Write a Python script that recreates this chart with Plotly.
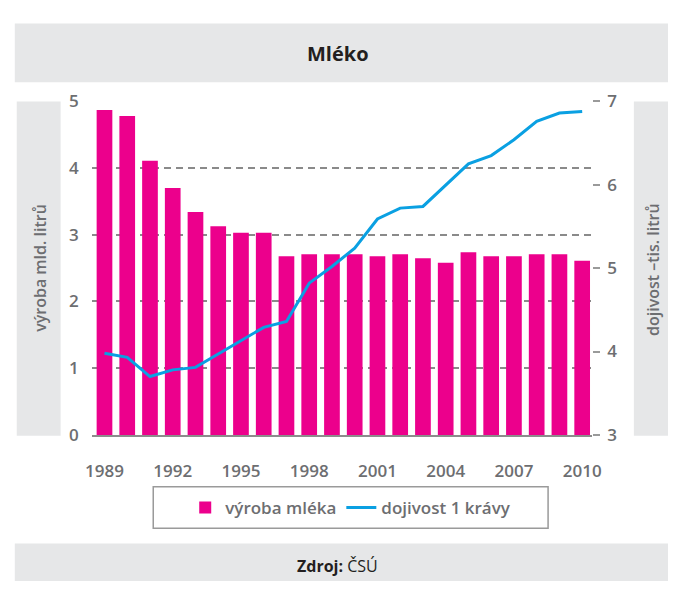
import plotly.graph_objects as go

# ---- data ----
years = list(range(1989, 2011))
vyroba_mleka = [4.87, 4.78, 4.11, 3.70, 3.34, 3.13, 3.03, 3.03, 2.68, 2.71, 2.71,
                2.71, 2.68, 2.71, 2.65, 2.58, 2.74, 2.68, 2.68, 2.71, 2.71, 2.61]
dojivost = [3.98, 3.93, 3.70, 3.78, 3.81, 3.97, 4.13, 4.29, 4.36, 4.82, 5.02,
            5.24, 5.59, 5.72, 5.74, 6.00, 6.25, 6.35, 6.54, 6.76, 6.86, 6.88]
x_ticks = [1989, 1992, 1995, 1998, 2001, 2004, 2007, 2010]
left_ticks = [0, 1, 2, 3, 4, 5]
right_ticks = [3, 4, 5, 6, 7]

W, H = 678, 592
FONT = "Open Sans"
GRAY_TXT = "#6d6e71"
BOX = "#e6e7e8"
PINK = "#ec008c"
BLUE = "#0aa0e2"

def px(x):
    return x / W

def py(y):
    return (H - y) / H

fig = go.Figure()
fig.add_trace(go.Bar(x=years, y=vyroba_mleka, name="výroba mléka",
                     marker=dict(color=PINK, line=dict(width=0)), yaxis="y"))
fig.add_trace(go.Scatter(x=years, y=dojivost, name="dojivost 1 krávy", mode="lines",
                         line=dict(color=BLUE, width=3), yaxis="y2"))

shapes = [
    dict(type="rect", xref="paper", yref="paper", x0=px(8), x1=1, y0=py(73), y1=py(12),
         fillcolor=BOX, line=dict(width=0), layer="below"),
    dict(type="rect", xref="paper", yref="paper", x0=px(10), x1=px(55), y0=py(441), y1=py(93),
         fillcolor=BOX, line=dict(width=0), layer="below"),
    dict(type="rect", xref="paper", yref="paper", x0=px(643), x1=1, y0=py(441), y1=py(93),
         fillcolor=BOX, line=dict(width=0), layer="below"),
    dict(type="rect", xref="paper", yref="paper", x0=px(8), x1=1, y0=0, y1=py(553),
         fillcolor=BOX, line=dict(width=0), layer="below"),
    dict(type="rect", xref="paper", yref="paper", x0=px(150), x1=px(555), y0=py(537), y1=py(494),
         fillcolor="white", line=dict(color="#9a9a9a", width=1.5), layer="below"),
]

annotations = [
    dict(text="<b>Mléko</b>", x=0.5, y=py(43), xref="paper", yref="paper", showarrow=False,
         font=dict(family=FONT, size=20, color="#231f20"), xanchor="center", yanchor="middle"),
    dict(text="výroba mld. litrů", x=px(33), y=py(266), xref="paper", yref="paper",
         showarrow=False, textangle=-90, font=dict(family=FONT, size=16, color=GRAY_TXT, weight=600),
         xanchor="center", yanchor="middle"),
    dict(text="dojivost –tis. litrů", x=px(662), y=py(268), xref="paper", yref="paper",
         showarrow=False, textangle=-90, font=dict(family=FONT, size=16, color=GRAY_TXT, weight=600),
         xanchor="center", yanchor="middle"),
    dict(text="<b>Zdroj:</b> ČSÚ", x=0.5, y=py(576), xref="paper", yref="paper", showarrow=False,
         font=dict(family=FONT, size=16, color="#231f20"), xanchor="center", yanchor="middle"),
]

fig.update_layout(
    width=W, height=H,
    margin=dict(l=0, r=0, t=0, b=0),
    paper_bgcolor="white", plot_bgcolor="rgba(0,0,0,0)",
    font=dict(family=FONT, color=GRAY_TXT, size=16),
    bargap=0.31,
    shapes=shapes,
    annotations=annotations,
    xaxis=dict(domain=[px(87), px(600)], range=[1988.443, 2010.43], tickmode="array",
               tickvals=x_ticks, ticktext=[str(v) for v in x_ticks], showgrid=False,
               zeroline=False, showline=True, linecolor="#8c8c8c", linewidth=2,
               ticks="", ticklabelstandoff=20,
               tickfont=dict(family=FONT, size=17, color=GRAY_TXT, weight=600)),
    yaxis=dict(domain=[py(440), py(93)], range=[0, 5], tickmode="array", tickvals=left_ticks,
               showgrid=True, gridcolor="#8a8a8a", gridwidth=1.5, griddash="7px,5px",
               zeroline=False, showline=False, ticks="", ticklabelstandoff=12,
               tickfont=dict(family=FONT, size=17, color=GRAY_TXT, weight=600)),
    yaxis2=dict(overlaying="y", side="right", range=[3, 7], tickmode="array",
                tickvals=right_ticks, showgrid=False, zeroline=False, showline=False,
                ticks="outside", ticklen=7, tickwidth=1.5, tickcolor="#9a9a9a",
                ticklabelstandoff=4,
                tickfont=dict(family=FONT, size=17, color=GRAY_TXT, weight=600)),
    showlegend=True,
    legend=dict(orientation="h", x=0.52, xanchor="center", y=py(516), yanchor="middle",
                bgcolor="rgba(0,0,0,0)", borderwidth=0,
                font=dict(family=FONT, size=17, color=GRAY_TXT, weight=600)),
)

fig.write_html(
    "out.html",
    config={"displayModeBar": False},
    post_script="document.body.style.margin='0';document.body.style.overflow='hidden';",
)
